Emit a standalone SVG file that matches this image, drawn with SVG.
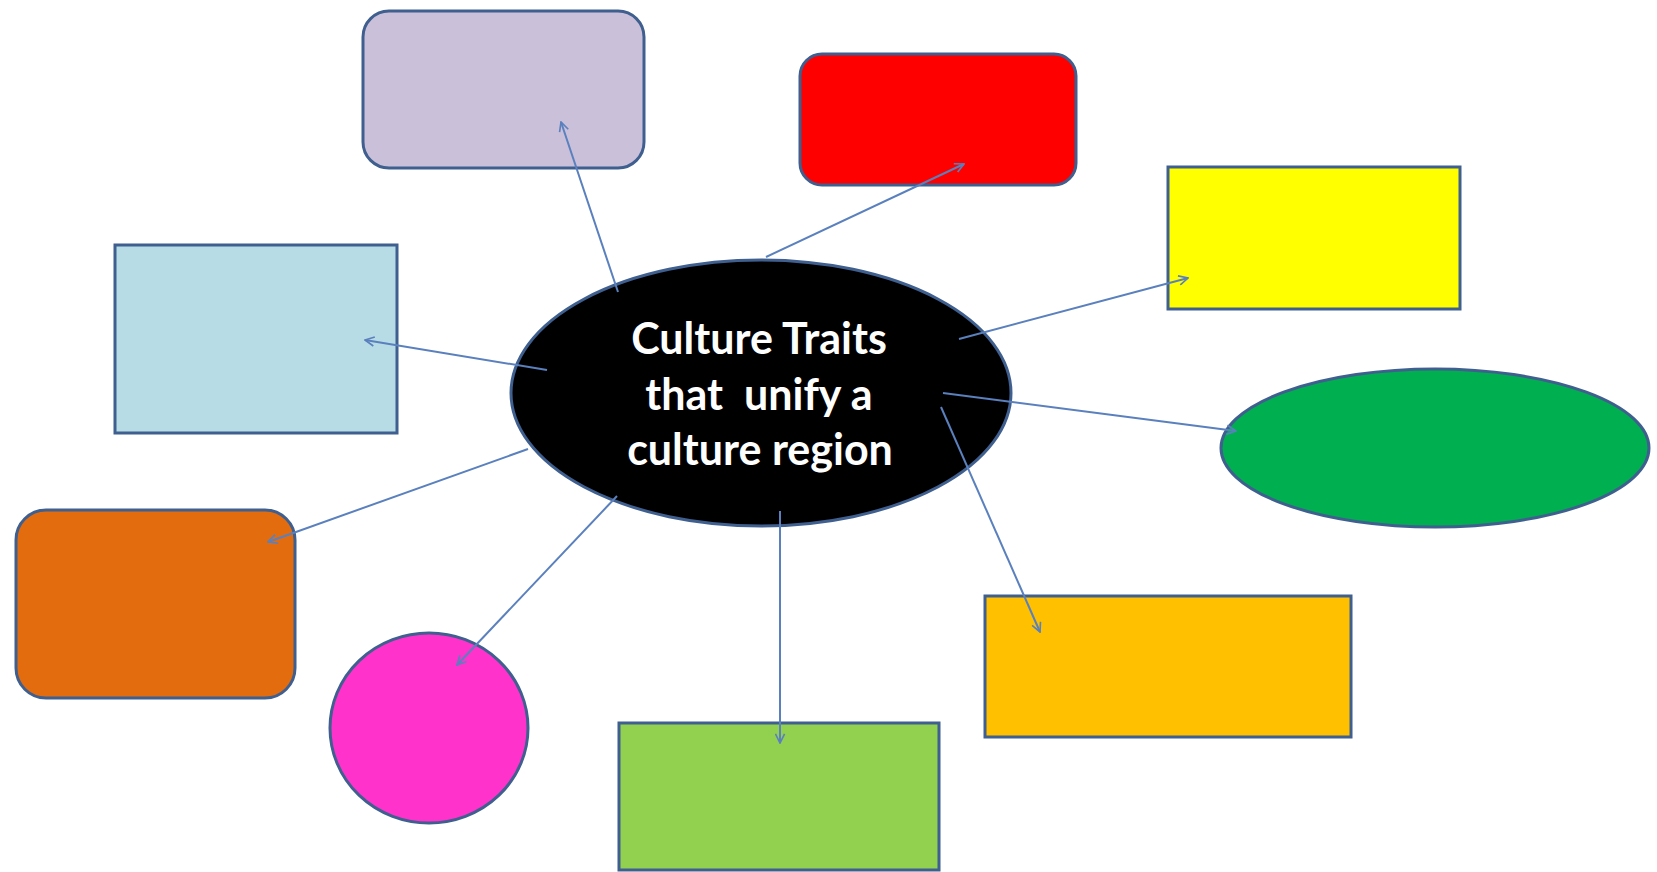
<svg xmlns="http://www.w3.org/2000/svg" width="1657" height="872" viewBox="0 0 1657 872">
<defs>
<style>
.n{stroke:#3f5f8f;stroke-width:3}
.c{stroke:#5a80bd;stroke-width:2;fill:none;marker-end:url(#ah)}
.t{font-family:Lato,"Open Sans",sans-serif;font-weight:bold;font-size:43px;fill:#ffffff;text-anchor:middle}
</style>
<marker id="ah" viewBox="0 0 12 12" refX="11" refY="6" markerWidth="11" markerHeight="11" orient="auto" markerUnits="userSpaceOnUse">
<path d="M1,1 L11,6 L1,11" fill="none" stroke="#5a80bd" stroke-width="1.8"/>
</marker>
</defs>
<rect width="1657" height="872" fill="#ffffff"/>
<g id="lavender"><rect class="n" x="363" y="11" width="281" height="157" rx="26" fill="#cbc0da"/></g>
<g id="red"><rect class="n" x="800" y="54" width="276" height="131" rx="22" fill="#ff0000"/></g>
<g id="yellow"><rect class="n" x="1168" y="167" width="292" height="142" fill="#ffff00"/></g>
<g id="lightblue"><rect class="n" x="115" y="245" width="282" height="188" fill="#b7dce6"/></g>
<g id="orange"><rect class="n" x="16" y="510" width="279" height="188" rx="30" fill="#e36c0f"/></g>
<g id="magenta"><ellipse class="n" cx="429" cy="728" rx="99" ry="95" fill="#ff33cc"/></g>
<g id="lightgreen"><rect class="n" x="619" y="723" width="320" height="147" fill="#92d050"/></g>
<g id="amber"><rect class="n" x="985" y="596" width="366" height="141" fill="#ffc000"/></g>
<g id="green"><ellipse class="n" cx="1435" cy="448" rx="214" ry="79" fill="#00b050"/></g>
<g id="center">
<ellipse class="n" cx="761" cy="393" rx="250" ry="133" fill="#000000" stroke="#2f4f7f"/>
<text class="t" x="759" y="354">Culture Traits</text>
<text class="t" x="759" y="410" xml:space="preserve">that  unify a</text>
<text class="t" x="760" y="465">culture region</text>
</g>
<g id="connectors">
<line class="c" x1="618" y1="292" x2="561" y2="122"/>
<line class="c" x1="766" y1="257" x2="964" y2="164"/>
<line class="c" x1="959" y1="339" x2="1188" y2="278"/>
<line class="c" x1="943" y1="393" x2="1236" y2="431"/>
<line class="c" x1="941" y1="407" x2="1040" y2="632"/>
<line class="c" x1="780" y1="511" x2="780" y2="743"/>
<line class="c" x1="617" y1="496" x2="457" y2="665"/>
<line class="c" x1="528" y1="449" x2="268" y2="542"/>
<line class="c" x1="547" y1="370" x2="365" y2="340"/>
</g>
</svg>
